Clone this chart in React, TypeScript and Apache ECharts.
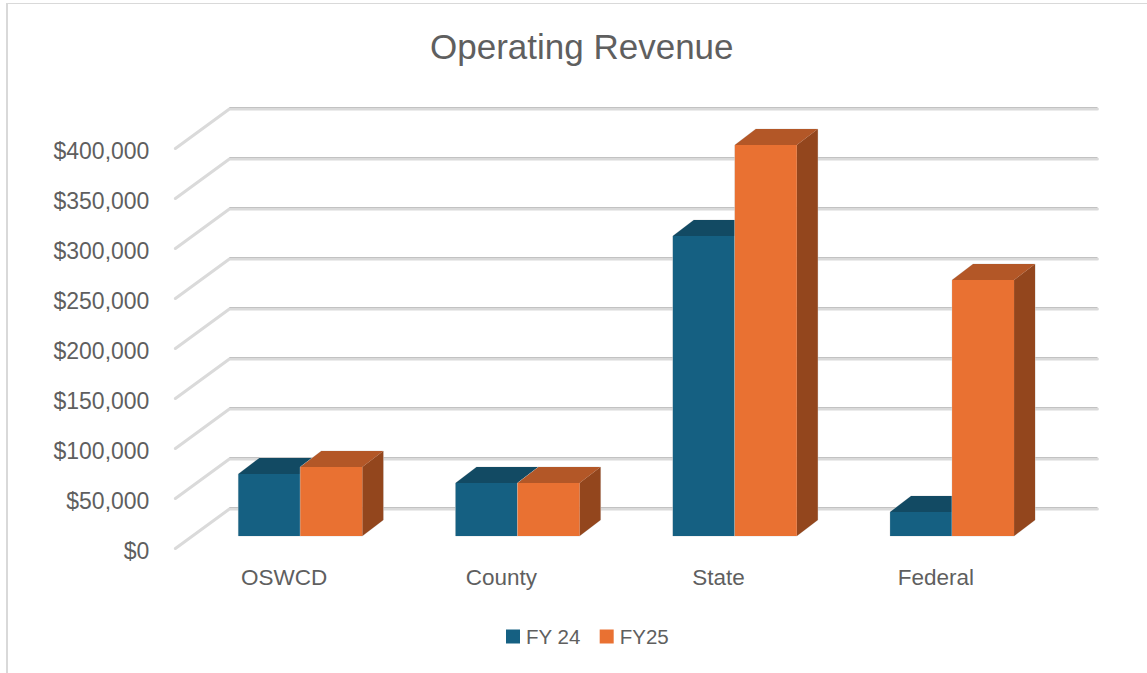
import React, { useEffect, useRef } from "react";
import * as echarts from "echarts";

const titleText = "Operating Revenue";
const categories = ["OSWCD", "County", "State", "Federal"];
const seriesNames = ["FY 24", "FY25"];
const fy24 = [62000, 53000, 300000, 24000];
const fy25 = [69000, 53000, 391000, 256000];
const tickValues = [0, 50000, 100000, 150000, 200000, 250000, 300000, 350000, 400000];

const FONT = "'Liberation Sans', Arial, sans-serif";
const TEXT = "#5f5f5f";
const WALL = { dx: 54, dy: -40 };
const BAR_NEAR = { dx: 16.3, dy: -12 };
const BAR_FAR = { dx: 37.3, dy: -28 };
const BAR_BAND = 0.2853;

const palettes = [
  { front: "#156082", top: "#124A63", side: "#0E3D52" },
  { front: "#E97132", top: "#B35727", side: "#93461D" },
];

function barRender(seriesIndex: number) {
  return (params: any, api: any) => {
    const idx = api.value(0);
    const val = api.value(1);
    const [cx, yTop] = api.coord([idx, val]);
    const [, yBase] = api.coord([idx, 0]);
    const w = api.size([1, 0])[0] * BAR_BAND;
    const x0 = cx + BAR_NEAR.dx + (seriesIndex === 0 ? -w : 0);
    const x1 = x0 + w;
    const t = yTop + BAR_NEAR.dy;
    const b = yBase + BAR_NEAR.dy;
    const ddx = BAR_FAR.dx - BAR_NEAR.dx;
    const ddy = BAR_FAR.dy - BAR_NEAR.dy;
    const p = palettes[seriesIndex];
    return {
      type: "group",
      children: [
        {
          type: "polygon",
          shape: { points: [[x0, b], [x1, b], [x1 + ddx, b + ddy], [x1 + ddx, t + ddy], [x0 + ddx, t + ddy], [x0, t]] },
          style: { fill: "rgba(220,220,220,0.7)", stroke: "rgba(220,220,220,0.7)", lineWidth: 1 },
        },
        {
          type: "polygon",
          shape: { points: [[x1, b], [x1 + ddx, b + ddy], [x1 + ddx, t + ddy], [x1, t]] },
          style: { fill: p.side },
        },
        {
          type: "polygon",
          shape: { points: [[x0, t], [x1, t], [x1 + ddx, t + ddy], [x0 + ddx, t + ddy]] },
          style: { fill: p.top },
        },
        { type: "rect", shape: { x: x0, y: t, width: w, height: b - t }, style: { fill: p.front } },
      ],
    };
  };
}

function gridRender(params: any, api: any) {
  const y = api.coord([0, api.value(1)])[1];
  const left = params.coordSys.x;
  const right = left + params.coordSys.width;
  const by = y + WALL.dy;
  return {
    type: "group",
    children: [
      {
        type: "polyline",
        shape: { points: [[left, y + 0.5], [left + WALL.dx, by + 1], [right + WALL.dx - 1, by + 1]] },
        style: { fill: "none", stroke: "#dadada", lineWidth: 3, lineCap: "round", lineJoin: "round" },
      },
      {
        type: "line",
        shape: { x1: left + WALL.dx, y1: by - 0.5, x2: right + WALL.dx - 1, y2: by - 0.5 },
        style: { stroke: "#c2c2c2", lineWidth: 1 },
      },
    ],
  };
}

export default function App() {
  const ref = useRef<HTMLDivElement>(null);
  useEffect(() => {
    document.body.style.margin = "0";
    const chart = echarts.init(ref.current!, null, { renderer: "svg" });
    chart.setOption({
      animation: false,
      backgroundColor: "#ffffff",
      textStyle: { fontFamily: FONT },
      title: {
        text: titleText,
        left: 430,
        top: 29,
        padding: 0,
        textStyle: { fontFamily: FONT, fontSize: 35, fontWeight: "normal", color: TEXT },
      },
      grid: { left: 175.4, top: 148, width: 869, height: 400, containLabel: false },
      legend: {
        data: seriesNames,
        left: 506,
        top: 626,
        padding: 0,
        icon: "rect",
        itemWidth: 14,
        itemHeight: 14,
        itemGap: 19,
        textStyle: { fontFamily: FONT, fontSize: 20.5, color: TEXT, padding: [0, 0, 0, 1] },
      },
      xAxis: {
        type: "category",
        data: categories,
        axisLine: { show: false },
        axisTick: { show: false },
        axisLabel: { fontFamily: FONT, fontSize: 22.5, color: TEXT, margin: 18 },
      },
      yAxis: {
        type: "value",
        min: 0,
        max: 400000,
        interval: 50000,
        axisLine: { show: false },
        axisTick: { show: false },
        splitLine: { show: false },
        axisLabel: {
          fontFamily: FONT,
          fontSize: 23,
          color: TEXT,
          margin: 26,
          formatter: (v: number) => "{a|$" + v.toLocaleString("en-US") + "}",
          rich: {
            a: { fontFamily: FONT, fontSize: 23, color: TEXT, padding: [6, 0, 0, 0] },
          },
        },
      },
      graphic: [
        { type: "line", shape: { x1: 7, y1: 3, x2: 7, y2: 673 }, style: { stroke: "#d9d9d9", lineWidth: 2 }, silent: true },
        { type: "line", shape: { x1: 6, y1: 3.5, x2: 1147, y2: 3.5 }, style: { stroke: "#d9d9d9", lineWidth: 1 }, silent: true },
      ],
      series: [
        {
          type: "custom",
          name: "grid",
          silent: true,
          z: 1,
          clip: false,
          renderItem: gridRender,
          encode: { x: 0, y: 1 },
          data: tickValues.map((v) => [0, v]),
        },
        {
          type: "custom",
          name: seriesNames[0],
          z: 2,
          clip: false,
          itemStyle: { color: palettes[0].front },
          renderItem: barRender(0),
          encode: { x: 0, y: 1 },
          data: fy24.map((v, i) => [i, v]),
        },
        {
          type: "custom",
          name: seriesNames[1],
          z: 3,
          clip: false,
          itemStyle: { color: palettes[1].front },
          renderItem: barRender(1),
          encode: { x: 0, y: 1 },
          data: fy25.map((v, i) => [i, v]),
        },
      ],
    });
    return () => chart.dispose();
  }, []);
  return <div ref={ref} style={{ width: 1147, height: 673 }} />;
}
